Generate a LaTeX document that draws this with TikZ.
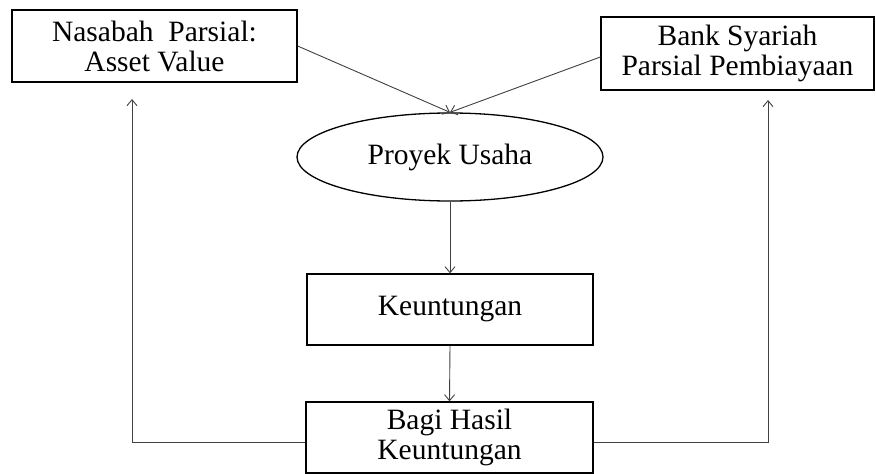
\documentclass[tikz,border=0pt]{standalone}
\usepackage{fontspec}
\setmainfont{Liberation Serif}
\usetikzlibrary{shapes.geometric,arrows.meta}
\begin{document}
\begin{tikzpicture}[x=1pt, y=-1pt, >={Straight Barb[length=6pt,width=10pt]}]
    % Node styles
    \tikzstyle{kotak} = [draw, line width=1.3pt, align=center, inner sep=0pt,
        font=\fontsize{29.5}{30}\selectfont]
    \tikzstyle{elips} = [kotak, ellipse]
    \tikzstyle{garis} = [draw=black!75, line width=0.9pt]

    \useasboundingbox (0,0) rectangle (876,474);

    % Nodes
    % top
    \node[kotak, minimum width=285pt, minimum height=72pt] (nasabah) at (154.5,46) {Nasabah~ Parsial:\\ Asset Value};
    \node[kotak, minimum width=273pt, minimum height=73pt] (bank) at (737.5,53.5) {Bank Syariah\\ Parsial Pembiayaan};

    % middle
    \node[elips, minimum width=306pt, minimum height=88pt] (proyek) at (450,157) {Proyek Usaha};
    \node[kotak, minimum width=286pt, minimum height=71pt] (untung) at (450,309.5) {Keuntungan};

    % bottom
    \node[kotak, minimum width=287pt, minimum height=71pt] (bagi) at (449.5,437.5) {Bagi Hasil\\ Keuntungan};

    % arrow ends
    \coordinate (kiri) at (132,99);
    \coordinate (kanan) at (768,100);

    % Edges
    \draw[garis, ->] (nasabah.east) -- (proyek.north);
    \draw[garis, ->] ([yshift=-3.5pt]bank.west) -- (proyek.north);

    \draw[garis, ->] (proyek.south) -- (untung.north);
    \draw[garis, ->] (untung.south) -- (bagi.north);

    \draw[garis, ->] ([yshift=-4.5pt]bagi.west) -| (kiri);
    \draw[garis, ->] ([yshift=-4.5pt]bagi.east) -| (kanan);

\end{tikzpicture}
\end{document}
